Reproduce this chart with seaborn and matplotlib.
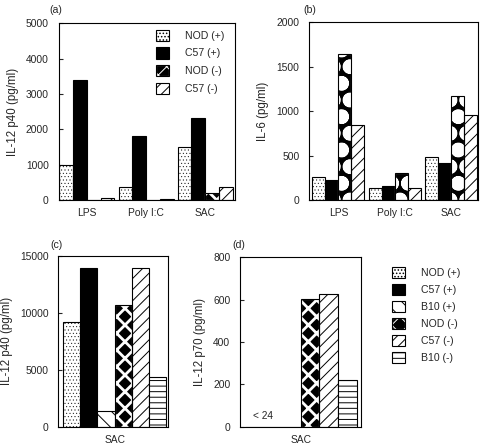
import matplotlib
matplotlib.use('Agg')
import matplotlib.pyplot as plt
import pandas as pd
import seaborn as sns
from matplotlib.patches import Patch, Rectangle

sns.set_style('ticks')
plt.rcParams['font.family'] = ['Liberation Sans', 'DejaVu Sans']
plt.rcParams['hatch.linewidth'] = 0.7

# values
stims = ['LPS', 'Poly I:C', 'SAC']
strains_ab = ['NOD (+)', 'C57 (+)', 'NOD (-)', 'C57 (-)']
strains_cd = ['NOD (+)', 'C57 (+)', 'B10 (+)', 'NOD (-)', 'C57 (-)', 'B10 (-)']

# (a) IL-12 p40, per strain over LPS / Poly I:C / SAC
a_nod_pos = [980, 380, 1515]
a_c57_pos = [3400, 1820, 2310]
a_nod_neg = [0, 0, 190]
a_c57_neg = [65, 40, 380]

# (b) IL-6
b_nod_pos = [255, 131, 480]
b_c57_pos = [225, 161, 420]
b_nod_neg = [1643, 300, 1170]
b_c57_neg = [840, 131, 960]

# (c) IL-12 p40 and (d) IL-12 p70 after SAC, one value per strain
c_sac = [9210, 13980, 1375, 10730, 13980, 4330]
d_sac = [0, 0, 0, 602, 628, 219]  # (+) strains below detection (< 24)

STYLE = {
    'NOD (+)': dict(fc='white', ec='black', hatch='.....', hlw=0.3),
    'C57 (+)': dict(fc='black', ec='black', hatch=None),
    'B10 (+)': dict(fc='white', ec='black', hatch='\\\\'),
    'NOD (-)': dict(fc='black', ec='white', hatch='xx', hlw=2.0, outline=True),
    'C57 (-)': dict(fc='white', ec='black', hatch='///'),
    'B10 (-)': dict(fc='white', ec='black', hatch='---'),
}
# IL-6 panel uses a circle pattern for NOD (-)
STYLE_B = dict(STYLE)
STYLE_B['NOD (-)'] = dict(fc='black', ec='white', hatch='oO.', hlw=2.2, outline=True)


def style_bar(ax, bar, st):
    bar.set_facecolor(st['fc'])
    bar.set_edgecolor(st['ec'])
    bar.set_linewidth(0.8)
    if st['hatch']:
        bar.set_hatch(st['hatch'])
    if 'hlw' in st and hasattr(bar, 'set_hatch_linewidth'):
        bar.set_hatch_linewidth(st['hlw'])
    if st.get('outline'):
        ax.add_patch(Rectangle(bar.get_xy(), bar.get_width(), bar.get_height(),
                               fill=False, ec='black', lw=0.8,
                               zorder=bar.get_zorder() + 0.1))


def legend_handle(st):
    p = Patch(fc=st['fc'], ec=st['ec'], hatch=st['hatch'], lw=0.8)
    if 'hlw' in st and hasattr(p, 'set_hatch_linewidth'):
        p.set_hatch_linewidth(st['hlw'])
    if st.get('outline'):
        return (p, Patch(fill=False, ec='black', lw=0.8))
    return p


def draw_panel(ax, stim_list, strains, series, width, style):
    rows = []
    for strain, vals in zip(strains, series):
        for stim, v in zip(stim_list, vals):
            rows.append((stim, strain, v))
    df = pd.DataFrame(rows, columns=['stim', 'strain', 'value'])
    sns.barplot(data=df, x='stim', y='value', hue='strain', order=stim_list,
                hue_order=strains, width=width, errorbar=None, legend=False,
                palette=['white'] * len(strains), saturation=1, ax=ax)
    for cont, strain in zip(ax.containers, strains):
        for bar in cont:
            style_bar(ax, bar, style[strain])
    ax.set_xlabel('')
    for s in ax.spines.values():
        s.set_visible(True)
        s.set_linewidth(0.8)
        s.set_color('black')
    ax.tick_params(axis='y', direction='in', length=3, pad=7, labelsize=7.4,
                   left=True, right=False)
    ax.tick_params(axis='x', length=0, pad=6, labelsize=7.4)


fig = plt.figure(figsize=(4.8, 4.48), dpi=100)
ax_a = fig.add_axes([0.122, 0.5536, 0.367, 0.394])
ax_b = fig.add_axes([0.644, 0.5536, 0.352, 0.397])
ax_c = fig.add_axes([0.1215, 0.0476, 0.229, 0.381])
ax_d = fig.add_axes([0.5, 0.0476, 0.2514, 0.378])

# (a)
draw_panel(ax_a, stims, strains_ab, [a_nod_pos, a_c57_pos, a_nod_neg, a_c57_neg],
           0.93, STYLE)
ax_a.set_xlim(-0.48, 2.5)
ax_a.set_ylim(0, 5000)
ax_a.set_yticks(range(0, 5001, 1000))
ax_a.set_ylabel('IL-12 p40 (pg/ml)', fontsize=8.3, labelpad=5)
ax_a.legend([legend_handle(STYLE[s]) for s in strains_ab], strains_ab,
            loc='upper left', bbox_to_anchor=(0.554, 0.965), frameon=False,
            fontsize=7.6, handlelength=1.25, handleheight=1.25,
            handletextpad=1.5, labelspacing=0.62, borderpad=0, borderaxespad=0)
ax_a.text(-0.05, 1.06, '(a)', transform=ax_a.transAxes, fontsize=7.6)

# (b)
draw_panel(ax_b, stims, strains_ab, [b_nod_pos, b_c57_pos, b_nod_neg, b_c57_neg],
           0.92, STYLE_B)
ax_b.set_xlim(-0.52, 2.48)
ax_b.set_ylim(0, 2000)
ax_b.set_yticks(range(0, 2001, 500))
ax_b.set_ylabel('IL-6 (pg/ml)', fontsize=8.3, labelpad=5)
ax_b.text(-0.035, 1.05, '(b)', transform=ax_b.transAxes, fontsize=7.6)

# (c)
draw_panel(ax_c, ['SAC'], strains_cd, [[v] for v in c_sac], 0.9, STYLE)
ax_c.set_xlim(-0.493, 0.47)
ax_c.set_ylim(0, 15000)
ax_c.set_yticks(range(0, 15001, 5000))
ax_c.set_ylabel('IL-12 p40 (pg/ml)', fontsize=8.3, labelpad=5)
ax_c.text(-0.07, 1.045, '(c)', transform=ax_c.transAxes, fontsize=7.6)

# (d)
draw_panel(ax_d, ['SAC'], strains_cd, [[v] for v in d_sac], 0.9, STYLE)
ax_d.set_xlim(-0.488, 0.482)
ax_d.set_ylim(0, 800)
ax_d.set_yticks(range(0, 801, 200))
ax_d.set_ylabel('IL-12 p70 (pg/ml)', fontsize=8.3, labelpad=5)
ax_d.text(-0.066, 1.055, '(d)', transform=ax_d.transAxes, fontsize=7.6)
nod_bar = ax_d.containers[0][0]
ax_d.text(nod_bar.get_x() + nod_bar.get_width(), 50, '< 24', ha='center',
          va='center', fontsize=7.3)
ax_d.legend([legend_handle(STYLE[s]) for s in strains_cd], strains_cd,
            loc='upper left', bbox_to_anchor=(0.816, 0.4045),
            bbox_transform=fig.transFigure, frameon=False,
            fontsize=7.6, handlelength=1.25, handleheight=1.25,
            handletextpad=1.5, labelspacing=0.55, borderpad=0, borderaxespad=0)

fig.savefig('out.png', dpi=100)
